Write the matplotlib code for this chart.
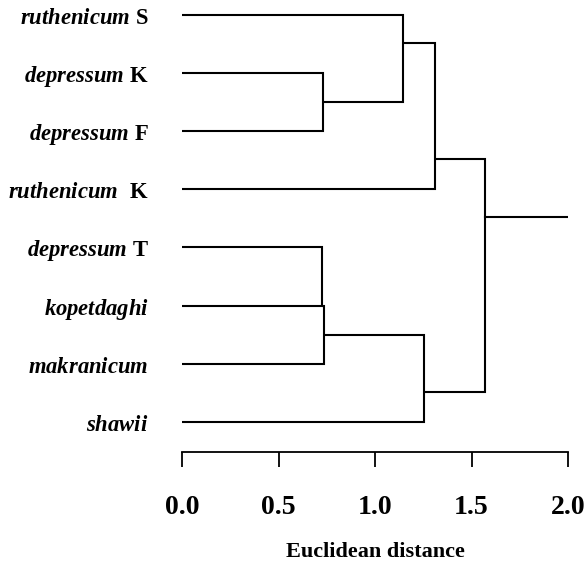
import matplotlib
matplotlib.use("Agg")
import matplotlib.pyplot as plt

# ---- data ----
leaf_names = ["ruthenicum", "depressum", "depressum", "ruthenicum",
              "depressum", "kopetdaghi", "makranicum", "shawii"]
leaf_suffix = ["S", "K", "F", "K", "T", "", "", ""]
leaf_gap = [1, 1, 1, 2, 1, 0, 0, 0]          # spaces between name and suffix
# merges: child ids (leaves 0..7, merged nodes 8..) and Euclidean distance
merge_a = [4, 1, 8, 0, 10, 11, 13]
merge_b = [5, 2, 6, 9, 7, 3, 12]
merge_dist = [0.727, 0.732, 0.736, 1.147, 1.256, 1.311, 1.570]
root_end = 2.0
xticks = [0.0, 0.5, 1.0, 1.5, 2.0]

# ---- layout (where each link leaves its bracket, fraction from child a to b) ----
link_frac = [1.0, 0.5, 0.5, 0.32, 0.66, 0.79, 0.25]

plt.rcParams['mathtext.fontset'] = 'custom'
plt.rcParams['mathtext.rm'] = 'Liberation Serif:bold'
plt.rcParams['mathtext.it'] = 'Liberation Serif:italic:bold'
plt.rcParams['mathtext.bf'] = 'Liberation Serif:bold'

W, H = 586, 563
fig = plt.figure(figsize=(W / 100, H / 100), dpi=100)
ax = fig.add_axes([182 / W, (H - 452) / H, 386 / W, 452 / H])

lw = 1.5
pos = {i: float(i) for i in range(len(leaf_names))}
hgt = {i: 0.0 for i in range(len(leaf_names))}
nid = len(leaf_names)
for a, b, d, f in zip(merge_a, merge_b, merge_dist, link_frac):
    ya, yb = pos[a], pos[b]
    ax.plot([hgt[a], d, d, hgt[b]], [ya, ya, yb, yb], color='black', lw=lw,
            solid_joinstyle='miter', solid_capstyle='butt')
    pos[nid] = ya + f * (yb - ya)
    hgt[nid] = d
    nid += 1
last = nid - 1
ax.plot([hgt[last], root_end], [pos[last], pos[last]], color='black', lw=lw)

ax.set_xlim(0, 2.0)
ax.set_ylim(7.52, -0.258)

labels = []
for n, s, g in zip(leaf_names, leaf_suffix, leaf_gap):
    if s:
        labels.append(r'$\mathit{' + n + '}' + r'\ ' * g + r'\mathrm{' + s + '}$')
    else:
        labels.append(r'$\mathit{' + n + '}$')
ax.set_yticks(range(len(leaf_names)))
ax.set_yticklabels(labels, fontsize=16.3)
ax.tick_params(axis='y', length=0, pad=24)

ax.set_xticks(xticks)
ax.set_xticklabels([f"{t:.1f}" for t in xticks], fontsize=20,
                   fontfamily='Liberation Serif', fontweight='bold')
ax.tick_params(axis='x', direction='out', length=10.8, width=1.3, pad=20)
ax.set_xlabel("Euclidean distance", fontsize=16, fontfamily='Liberation Serif',
              fontweight='bold', labelpad=16)

for sp in ['top', 'right', 'left']:
    ax.spines[sp].set_visible(False)
ax.spines['bottom'].set_linewidth(1.3)

fig.savefig("out.png", dpi=100)
